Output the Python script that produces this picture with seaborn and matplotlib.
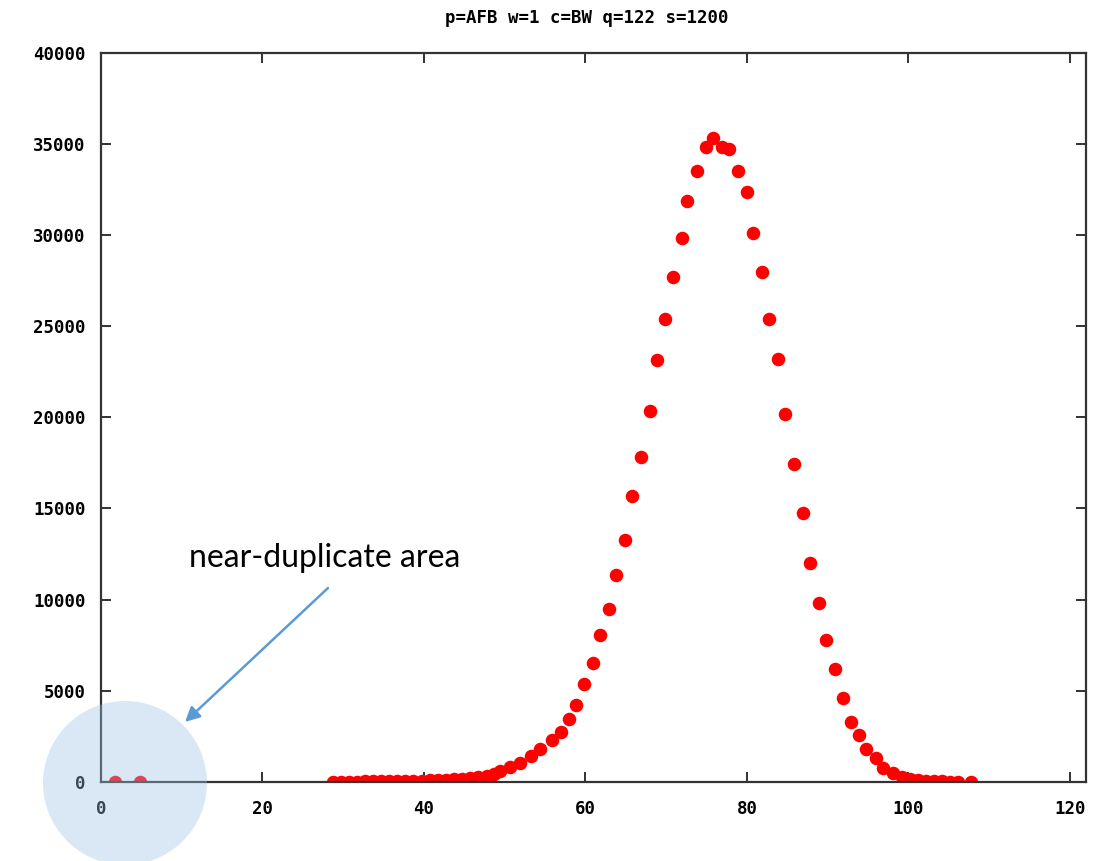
import matplotlib
matplotlib.use('Agg')
import matplotlib.pyplot as plt
import seaborn as sns
import pandas as pd
from matplotlib.patches import Ellipse

# data
x_vals = [1.7, 4.8,
          28.7, 29.7, 30.7, 31.7, 32.7, 33.7, 34.7, 35.7, 36.7, 37.7,
          38.7, 39.7, 40.7, 41.7, 42.7, 43.7, 44.7, 45.7, 46.7, 47.8,
          48.7, 49.4, 50.6, 51.9, 53.3, 54.4, 55.8,
          57.0, 57.95, 58.8, 59.85, 60.97, 61.83, 62.95, 63.8, 64.93, 65.76,
          66.84, 67.95, 68.82, 69.88, 70.8, 71.9, 72.6, 73.84, 74.9, 75.8,
          76.87, 77.8, 78.85, 79.96, 80.78, 81.9, 82.76, 83.88, 84.7, 85.82,
          86.9, 87.8, 88.9, 89.8, 90.86, 91.9, 92.84, 93.87, 94.8, 95.97,
          96.88, 98.1, 99.2, 100.2, 101.2, 102.2, 103.2, 104.2, 105.2, 106.2,
          107.8]
y_vals = [0, 0,
          10, 15, 20, 25, 30, 35, 40, 50, 55, 60,
          70, 80, 90, 100, 120, 150, 180, 220, 280, 350,
          450, 600, 800, 1050, 1400, 1800, 2300,
          2726, 3439, 4207, 5359, 6527, 8079, 9506, 11354, 13290, 15687,
          17843, 20349, 23147, 25379, 27683, 29822, 31868, 33513, 34847, 35307,
          34847, 34720, 33513, 32345, 30096, 27974, 25379, 23185, 20168, 17442,
          14755, 12012, 9818, 7772, 6215, 4591, 3308, 2578, 1794, 1300,
          751, 477, 290, 180, 120, 80, 50, 30, 20, 10,
          5]
x_ticks = [0, 20, 40, 60, 80, 100, 120]
y_ticks = [0, 5000, 10000, 15000, 20000, 25000, 30000, 35000, 40000]
title_text = 'p=AFB w=1 c=BW q=122 s=1200'
note_text = 'near-duplicate area'

df = pd.DataFrame({'x': x_vals, 'y': y_vals})

sns.set_style('white')
plt.rcParams['font.family'] = ['DejaVu Sans Mono', 'DejaVu Sans']

fig = plt.figure(figsize=(11.15, 8.61), dpi=100)
ax = fig.add_axes([0.0906, 0.0918, 0.8834, 0.847])

sns.scatterplot(data=df, x='x', y='y', ax=ax, color='#ff0000', s=95,
                linewidth=0, legend=False)

ax.set_xlim(0, 122)
ax.set_ylim(0, 40000)
ax.set_xticks(x_ticks)
ax.set_yticks(y_ticks)
ax.set_xticklabels([str(t) for t in x_ticks], fontsize=12.5, fontweight='bold')
ax.set_yticklabels([str(t) for t in y_ticks], fontsize=12.5, fontweight='bold')
ax.set_xlabel('')
ax.set_ylabel('')
ax.tick_params(direction='in', length=7, width=1.3, color='#222222',
               labelcolor='black', top=True, right=True, left=True,
               bottom=True)
ax.tick_params(axis='x', pad=13)
ax.tick_params(axis='y', pad=11)
for sp in ax.spines.values():
    sp.set_visible(True)
    sp.set_color('#333333')
    sp.set_linewidth(1.6)

fig.text(0.5265, 0.979, title_text, ha='center', va='center',
         fontsize=12.5, fontweight='bold', color='black')

# highlight circle and annotation
circle = Ellipse((125 / 1115, 1 - 783 / 861), 164 / 1115, 164 / 861,
                 transform=fig.transFigure, facecolor='#9DC3E6', alpha=0.37,
                 edgecolor='none', zorder=10)
fig.add_artist(circle)

fig.text(325 / 1115, 1 - 558 / 861, note_text, ha='center', va='center',
         fontsize=23, family=['Lato', 'DejaVu Sans'], color='black')
ax.annotate('', xy=(185 / 1115, 1 - 722 / 861), xycoords='figure fraction',
            xytext=(328 / 1115, 1 - 588 / 861), textcoords='figure fraction',
            arrowprops=dict(arrowstyle='-|>', color='#5B9BD5', lw=1.8,
                            mutation_scale=22, shrinkA=0, shrinkB=0),
            annotation_clip=False)

fig.savefig('out.png', dpi=100)
